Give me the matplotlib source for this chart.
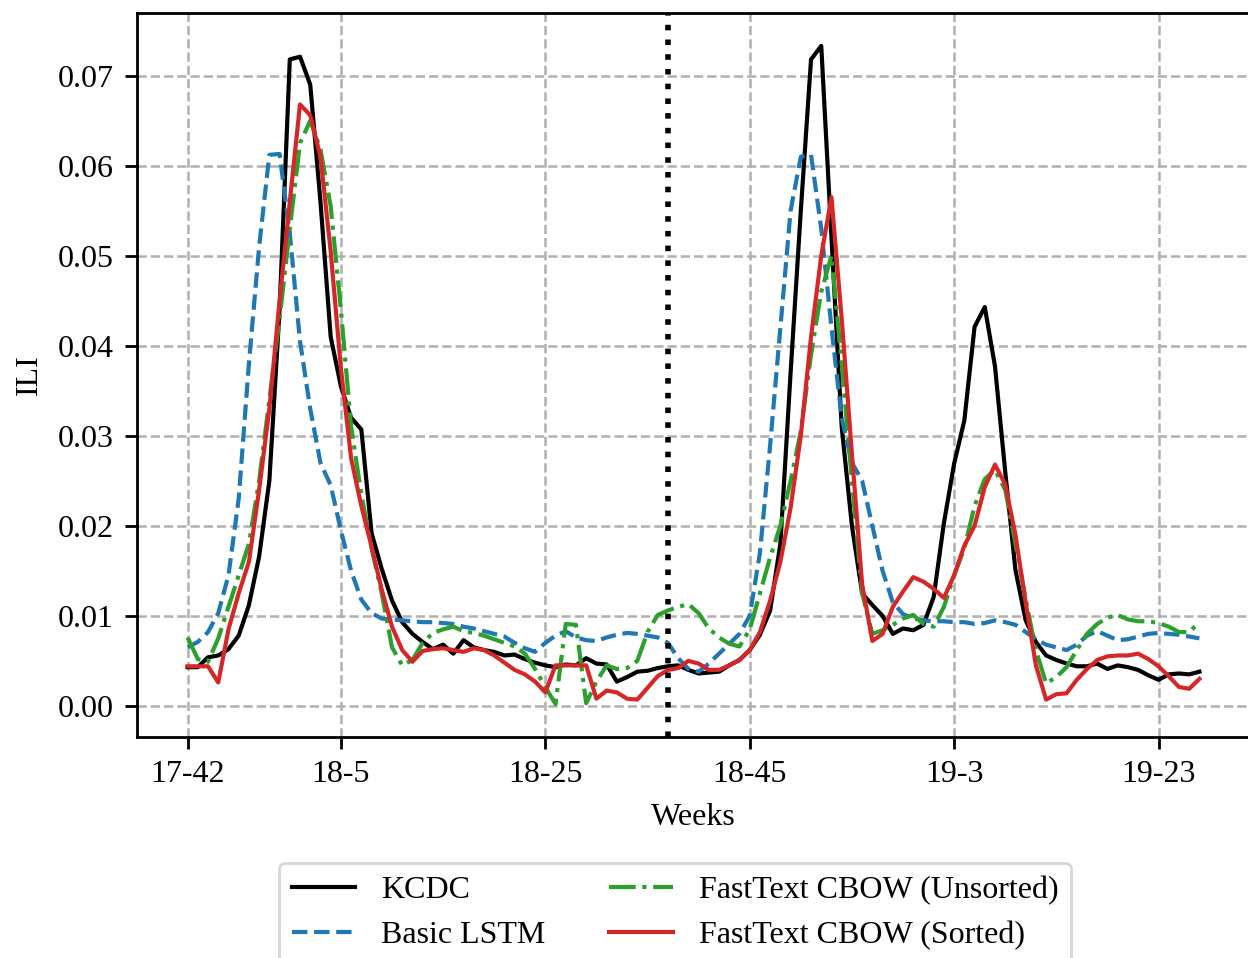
import matplotlib
matplotlib.use("Agg")
import matplotlib.pyplot as plt
import numpy as np

tick_positions = [0, 15, 35, 55, 75, 95]
tick_labels = ['17-42', '18-5', '18-25', '18-45', '19-3', '19-23']
split_index = 47

kcdc = [0.0043, 0.0043, 0.0054, 0.0056, 0.0063, 0.0078, 0.0112, 0.0166, 0.0250, 0.0440,
        0.0718, 0.0721, 0.0690, 0.0560, 0.0410, 0.0355, 0.0320, 0.0307, 0.0192, 0.0152,
        0.0117, 0.0093, 0.0080, 0.0071, 0.0063, 0.0068, 0.0058, 0.0073, 0.0065, 0.0062,
        0.0060, 0.0056, 0.0057, 0.0052, 0.0048, 0.0045, 0.0043, 0.0046, 0.0045, 0.0053,
        0.0047, 0.0046, 0.0027, 0.0032, 0.0038, 0.0039, 0.0042, 0.0044, 0.0045, 0.0040,
        0.0036, 0.0037, 0.0038, 0.0045, 0.0051, 0.0062, 0.0079, 0.0106, 0.0180, 0.0370,
        0.0550, 0.0718, 0.0733, 0.0520, 0.0310, 0.0200, 0.0125, 0.0112, 0.0100, 0.0080,
        0.0086, 0.0084, 0.0090, 0.0121, 0.0203, 0.0269, 0.0317, 0.0421, 0.0443, 0.0377,
        0.0260, 0.0151, 0.0095, 0.0071, 0.0056, 0.0051, 0.0047, 0.0044, 0.0044, 0.0047,
        0.0041, 0.0045, 0.0043, 0.0040, 0.0034, 0.0029, 0.0035, 0.0036, 0.0035, 0.0038]

basic_lstm = [0.0065, 0.0071, 0.0082, 0.0103, 0.0145, 0.0230, 0.0380, 0.0510, 0.0612, 0.0613,
              0.0525, 0.0405, 0.0330, 0.0270, 0.0245, 0.0195, 0.0150, 0.0118, 0.0103, 0.0097,
              0.0096, 0.0095, 0.0094, 0.0093, 0.0093, 0.0092, 0.0091, 0.0088, 0.0086, 0.0083,
              0.0080, 0.0077, 0.0070, 0.0064, 0.0060, 0.0070, 0.0078, 0.0083, 0.0076, 0.0073,
              0.0072, 0.0076, 0.0079, 0.0081, 0.0080, 0.0078, 0.0076, 0.0070, 0.0053, 0.0041,
              0.0038, 0.0047, 0.0058, 0.0069, 0.0080, 0.0100, 0.0170, 0.0290, 0.0420, 0.0550,
              0.0610, 0.0612, 0.0530, 0.0420, 0.0320, 0.0270, 0.0250, 0.0200, 0.0150, 0.0115,
              0.0102, 0.0097, 0.0095, 0.0094, 0.0094, 0.0093, 0.0093, 0.0091, 0.0092, 0.0095,
              0.0093, 0.0090, 0.0082, 0.0074, 0.0068, 0.0065, 0.0062, 0.0068, 0.0078, 0.0083,
              0.0078, 0.0073, 0.0074, 0.0077, 0.0080, 0.0081, 0.0080, 0.0079, 0.0077, 0.0075]

cbow_unsorted = [0.0076, 0.0052, 0.0049, 0.0075, 0.0110, 0.0145, 0.0180, 0.0250, 0.0340, 0.0430,
                 0.0530, 0.0625, 0.0650, 0.0618, 0.0555, 0.0440, 0.0310, 0.0235, 0.0175, 0.0125,
                 0.0065, 0.0045, 0.0051, 0.0070, 0.0081, 0.0085, 0.0088, 0.0083, 0.0081, 0.0078,
                 0.0074, 0.0070, 0.0066, 0.0058, 0.0041, 0.0021, 0.0002, 0.0091, 0.0090, 0.0003,
                 0.0027, 0.0045, 0.0041, 0.0042, 0.0050, 0.0082, 0.0101, 0.0106, 0.0110, 0.0113,
                 0.0103, 0.0086, 0.0076, 0.0069, 0.0066, 0.0085, 0.0125, 0.0165, 0.0200, 0.0250,
                 0.0305, 0.0390, 0.0460, 0.0500, 0.0380, 0.0250, 0.0125, 0.0080, 0.0084, 0.0090,
                 0.0097, 0.0101, 0.0091, 0.0088, 0.0110, 0.0145, 0.0175, 0.0222, 0.0252, 0.0262,
                 0.0240, 0.0180, 0.0118, 0.0062, 0.0025, 0.0032, 0.0043, 0.0062, 0.0080, 0.0091,
                 0.0098, 0.0101, 0.0096, 0.0094, 0.0094, 0.0092, 0.0088, 0.0082, 0.0082, 0.0093]

cbow_sorted = [0.0044, 0.0044, 0.0044, 0.0026, 0.0085, 0.0125, 0.0160, 0.0240, 0.0330, 0.0450,
               0.0560, 0.0668, 0.0656, 0.0610, 0.0505, 0.0375, 0.0275, 0.0222, 0.0177, 0.0129,
               0.0088, 0.0062, 0.0049, 0.0061, 0.0063, 0.0064, 0.0062, 0.0060, 0.0064, 0.0062,
               0.0056, 0.0048, 0.0040, 0.0035, 0.0027, 0.0015, 0.0045, 0.0045, 0.0045, 0.0045,
               0.0008, 0.0017, 0.0015, 0.0008, 0.0007, 0.0020, 0.0033, 0.0040, 0.0042, 0.0050,
               0.0047, 0.0040, 0.0040, 0.0045, 0.0051, 0.0062, 0.0082, 0.0117, 0.0160, 0.0220,
               0.0300, 0.0410, 0.0500, 0.0565, 0.0430, 0.0280, 0.0135, 0.0072, 0.0080, 0.0110,
               0.0127, 0.0143, 0.0138, 0.0130, 0.0120, 0.0145, 0.0178, 0.0200, 0.0243, 0.0268,
               0.0246, 0.0190, 0.0115, 0.0045, 0.0007, 0.0013, 0.0014, 0.0029, 0.0041, 0.0051,
               0.0055, 0.0056, 0.0056, 0.0058, 0.0052, 0.0044, 0.0033, 0.0021, 0.0019, 0.0030]

plt.rcParams['font.family'] = ['Liberation Serif', 'DejaVu Serif']
plt.rcParams['font.size'] = 11.5
plt.rcParams['axes.linewidth'] = 1.0
plt.rcParams['xtick.major.size'] = 4.2
plt.rcParams['ytick.major.size'] = 4.2
plt.rcParams['xtick.major.width'] = 1.0
plt.rcParams['ytick.major.width'] = 1.0
plt.rcParams['xtick.major.pad'] = 4.2
plt.rcParams['ytick.major.pad'] = 4.2
plt.rcParams['axes.labelpad'] = 4.8

W, H = 1248, 958
dpi = 200
fig = plt.figure(figsize=(W / dpi, H / dpi), dpi=dpi)
ax = fig.add_axes([137 / W, 1 - 737 / H, (1250 - 137) / W, (737 - 13) / H])

x = np.arange(len(kcdc))
ax.plot(x, kcdc, color='black', linestyle='-', linewidth=1.5, label='KCDC')
ax.plot(x, basic_lstm, color='#1f77b4', linestyle='--', linewidth=1.5, label='Basic LSTM')
ax.plot(x, cbow_unsorted, color='#2ca02c', linestyle='-.', linewidth=1.5,
        label='FastText CBOW (Unsorted)')
ax.plot(x, cbow_sorted, color='#d62728', linestyle='-', linewidth=1.5,
        label='FastText CBOW (Sorted)')
ax.axvline(split_index, color='black', linestyle=':', linewidth=2.0)

ax.set_xticks(tick_positions)
ax.set_xticklabels(tick_labels)
ax.set_yticks(np.arange(0, 0.071, 0.01))
ax.yaxis.set_major_formatter(matplotlib.ticker.FormatStrFormatter('%.2f'))
ax.grid(True, linestyle='--', color='#b0b0b0', linewidth=0.9)
ax.set_xlabel('Weeks')
ax.set_ylabel('ILI')

fig.legend(loc='upper center', bbox_to_anchor=(675 / W, 1 - 863 / H),
           bbox_transform=fig.transFigure, ncol=2, fontsize=11.5, borderaxespad=0)

fig.savefig('out.png', dpi=dpi)
